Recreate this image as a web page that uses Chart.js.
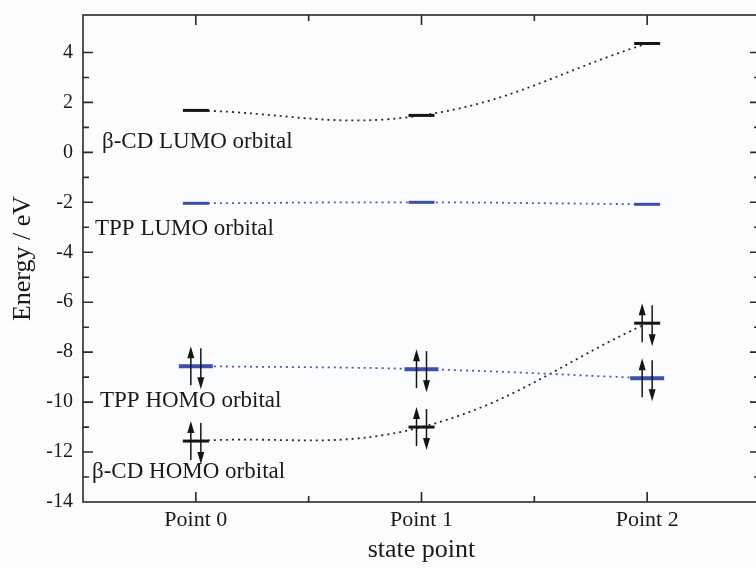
<!DOCTYPE html>
<html>
<head>
<meta charset="utf-8">
<script src="https://cdn.jsdelivr.net/npm/chart.js@4.4.1/dist/chart.umd.min.js"></script>
<style>
    html, body { margin: 0; padding: 0; background: #fafcfd; overflow: hidden; }
    #wrap { width: 772px; height: 568px; }
</style>
</head>
<body>
<div id="wrap"><canvas id="levelChart" width="772" height="568"></canvas></div>
<script>
// state points on the x axis
const statePoints = ['Point 0', 'Point 1', 'Point 2'];

// orbital energies (eV)
const cdLumo = [1.68, 1.48, 4.36];
const tppLumo = [-2.04, -2.0, -2.08];
const tppHomo = [-8.56, -8.68, -9.04];
const cdHomo = [-11.56, -11.0, -6.84];

const orbitalNames = ['β-CD LUMO orbital', 'TPP LUMO orbital', 'TPP HOMO orbital', 'β-CD HOMO orbital'];

const yMin = -14;
const yMax = 5.5;

const BLACK = '#151515';
const BLUE = '#3d4fa6';
const SERIF = "'Liberation Serif', 'Times New Roman', serif";

function toPoints(values) {
    return values.map(function (v, i) { return { x: i, y: v }; });
}

function levelSet(values, color, half, width) {
    return {
        type: 'scatter',
        data: toPoints(values),
        borderColor: color,
        backgroundColor: color,
        pointStyle: 'line',
        pointRadius: half,
        pointHoverRadius: half,
        pointBorderWidth: width,
        order: 1
    };
}

function curveSet(values, color) {
    return {
        type: 'line',
        data: toPoints(values),
        borderColor: color,
        borderWidth: 1.8,
        borderDash: [2, 4],
        pointRadius: 0,
        tension: 0.4,
        fill: false,
        order: 2
    };
}

// frame with inward ticks on all four sides
const framePlugin = {
    id: 'frame',
    afterDraw(chart) {
        const ctx = chart.ctx;
        const a = chart.chartArea;
        const x = chart.scales.x;
        const y = chart.scales.y;
        ctx.save();
        ctx.strokeStyle = '#2a2a2a';
        ctx.lineWidth = 1.6;
        ctx.strokeRect(a.left, a.top, a.right - a.left, a.bottom - a.top);
        ctx.beginPath();
        y.ticks.forEach(function (t) {
            if (!Number.isInteger(t.value) || t.value <= yMin) return;
            const py = y.getPixelForValue(t.value);
            const len = t.value % 2 === 0 ? 10 : 6;
            ctx.moveTo(a.left, py); ctx.lineTo(a.left + len, py);
            ctx.moveTo(a.right, py); ctx.lineTo(a.right - len, py);
        });
        x.ticks.forEach(function (t) {
            if (t.value <= x.min || t.value >= x.max) return;
            const px = x.getPixelForValue(t.value);
            const len = Number.isInteger(t.value) ? 10 : 6;
            ctx.moveTo(px, a.bottom); ctx.lineTo(px, a.bottom - len);
            ctx.moveTo(px, a.top); ctx.lineTo(px, a.top + len);
        });
        ctx.stroke();
        ctx.restore();
    }
};

// spin arrows on the occupied levels + orbital names
const annotatePlugin = {
    id: 'annotate',
    afterDatasetsDraw(chart) {
        const ctx = chart.ctx;
        const a = chart.chartArea;
        const x = chart.scales.x;
        const y = chart.scales.y;

        function arrow(px, yFrom, yTo) {
            const dir = yTo < yFrom ? -1 : 1;
            ctx.beginPath();
            ctx.moveTo(px, yFrom);
            ctx.lineTo(px, yTo - dir * 10);
            ctx.stroke();
            ctx.beginPath();
            ctx.moveTo(px, yTo);
            ctx.lineTo(px - 3.5, yTo - dir * 12);
            ctx.lineTo(px + 3.5, yTo - dir * 12);
            ctx.closePath();
            ctx.fill();
        }

        ctx.save();
        ctx.strokeStyle = BLACK;
        ctx.fillStyle = BLACK;
        ctx.lineWidth = 1.5;
        [tppHomo, cdHomo].forEach(function (series) {
            series.forEach(function (v, i) {
                const px = x.getPixelForValue(i);
                const py = y.getPixelForValue(v);
                arrow(px - 5, py + 19, py - 20);
                arrow(px + 5, py - 18, py + 23);
            });
        });

        ctx.font = '23px ' + SERIF;
        ctx.fillStyle = '#1a1a1a';
        ctx.textBaseline = 'alphabetic';
        const anchors = [[cdLumo, 19, 38], [tppLumo, 12, 32], [tppHomo, 17, 41], [cdHomo, 9, 37]];
        anchors.forEach(function (an, k) {
            const py = y.getPixelForValue(an[0][0]);
            ctx.fillText(orbitalNames[k], a.left + an[1], py + an[2]);
        });
        ctx.restore();
    }
};

new Chart(document.getElementById('levelChart'), {
    data: {
        datasets: [
            levelSet(cdLumo, BLACK, 13, 3),
            levelSet(tppLumo, BLUE, 13, 3),
            levelSet(tppHomo, BLUE, 17, 4),
            levelSet(cdHomo, BLACK, 13, 3),
            curveSet(cdLumo, '#2a2a2a'),
            curveSet(tppLumo, '#4a5bb0'),
            curveSet(tppHomo, '#4a5bb0'),
            curveSet(cdHomo, '#2a2a2a')
        ]
    },
    options: {
        responsive: false,
        animation: false,
        events: [],
        layout: { autoPadding: false, padding: { top: 15, right: 12, left: 0, bottom: 0 } },
        plugins: {
            legend: { display: false },
            tooltip: { enabled: false }
        },
        scales: {
            x: {
                type: 'linear',
                min: -0.5,
                max: 2.5,
                grid: { display: false, drawTicks: false },
                border: { display: false },
                afterFit: function (scale) {
                    scale.height = 66;
                    scale.paddingLeft = 0;
                    scale.paddingRight = 0;
                },
                ticks: {
                    stepSize: 0.5,
                    autoSkip: false,
                    maxRotation: 0,
                    padding: 5,
                    color: '#1a1a1a',
                    font: { family: SERIF, size: 22 },
                    callback: function (v) {
                        return Number.isInteger(v) && statePoints[v] ? statePoints[v] : '';
                    }
                },
                title: {
                    display: true,
                    text: 'state point',
                    color: '#1a1a1a',
                    font: { family: SERIF, size: 26 },
                    padding: { top: 0, bottom: 2 }
                }
            },
            y: {
                min: yMin,
                max: yMax,
                grid: { display: false, drawTicks: false },
                border: { display: false },
                afterFit: function (scale) {
                    scale.width = 83;
                    scale.paddingTop = 0;
                    scale.paddingBottom = 0;
                },
                ticks: {
                    stepSize: 1,
                    autoSkip: false,
                    padding: 10,
                    color: '#1a1a1a',
                    font: { family: SERIF, size: 20 },
                    callback: function (v) {
                        return Number.isInteger(v) && v % 2 === 0 ? String(v) : '';
                    }
                },
                title: {
                    display: true,
                    text: 'Energy / eV',
                    color: '#1a1a1a',
                    font: { family: SERIF, size: 26 },
                    padding: { top: 8, bottom: 0 }
                }
            }
        }
    },
    plugins: [framePlugin, annotatePlugin]
});
</script>
</body>
</html>
